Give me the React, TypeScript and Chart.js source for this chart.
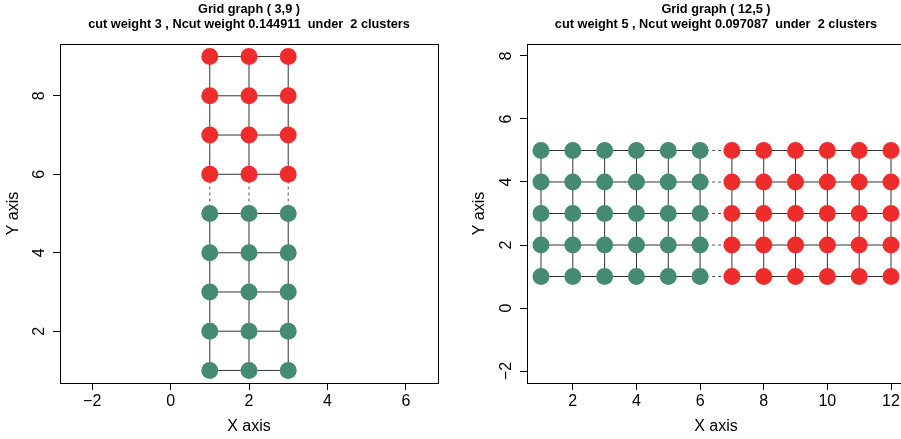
import React, { useEffect, useRef } from "react";
import { Chart, registerables } from "chart.js";

Chart.register(...registerables);

const FONT = "'Liberation Sans', Arial, Helvetica, sans-serif";
const GREEN = "#458B74";
const RED = "#EE2C2C";
const EDGE = "#333333";
const CUT_EDGE = "#555555";

// ---- Left panel: Grid graph (3,9) ----
const leftCols = [1, 2, 3];
const leftRows = [1, 2, 3, 4, 5, 6, 7, 8, 9];
const leftClusterByRow = [1, 1, 1, 1, 1, 2, 2, 2, 2];
const leftXTicks = [-2, 0, 2, 4, 6];
const leftYTicks = [2, 4, 6, 8];
const leftXRange = [-2.82, 6.82];
const leftYRange = [0.68, 9.32];
const leftTitle = ["Grid graph ( 3,9 )", "cut weight 3 , Ncut weight 0.144911  under  2 clusters"];

// ---- Right panel: Grid graph (12,5) ----
const rightCols = [1, 2, 3, 4, 5, 6, 7, 8, 9, 10, 11, 12];
const rightRows = [1, 2, 3, 4, 5];
const rightClusterByCol = [1, 1, 1, 1, 1, 1, 2, 2, 2, 2, 2, 2];
const rightXTicks = [2, 4, 6, 8, 10, 12];
const rightYTicks = [-2, 0, 2, 4, 6, 8];
const rightXRange = [0.56, 12.44];
const rightYRange = [-2.38, 8.38];
const rightTitle = ["Grid graph ( 12,5 )", "cut weight 5 , Ncut weight 0.097087  under  2 clusters"];

type Pt = { x: number; y: number; c: number };

function fmt(v: number | string) {
  const n = Number(v);
  return n < 0 ? "\u2212" + Math.abs(n) : String(n);
}

function buildDatasets(cols: number[], rows: number[], clusterOf: (ci: number, ri: number) => number) {
  const grid: Pt[][] = rows.map((ry, ri) => cols.map((cx, ci) => ({ x: cx, y: ry, c: clusterOf(ci, ri) })));
  const datasets: any[] = [];
  const edgeDs = (data: Pt[]) => ({
    data,
    showLine: true,
    borderColor: EDGE,
    borderWidth: 1,
    pointRadius: 0,
    pointHoverRadius: 0,
    order: 2,
    segment: {
      borderDash: (ctx: any) => (data[ctx.p0DataIndex].c !== data[ctx.p1DataIndex].c ? [3, 3] : undefined),
      borderColor: (ctx: any) => (data[ctx.p0DataIndex].c !== data[ctx.p1DataIndex].c ? CUT_EDGE : undefined),
    },
  });
  grid.forEach((row) => datasets.push(edgeDs(row)));
  cols.forEach((_, ci) => datasets.push(edgeDs(grid.map((row) => row[ci]))));
  const all = grid.flat();
  [1, 2].forEach((cl) => {
    datasets.push({
      data: all.filter((p) => p.c === cl),
      showLine: false,
      pointRadius: 8.5,
      pointHoverRadius: 8.5,
      pointBorderWidth: 0,
      pointBackgroundColor: cl === 1 ? GREEN : RED,
      pointBorderColor: cl === 1 ? GREEN : RED,
      order: 0,
    });
  });
  return datasets;
}

const framePlugin = (title: string[]) => ({
  id: "frameAndTitle",
  afterDraw(chart: any) {
    const { ctx, chartArea } = chart;
    const { left, right, top, bottom } = chartArea;
    ctx.save();
    ctx.strokeStyle = "#000";
    ctx.lineWidth = 1;
    ctx.strokeRect(Math.round(left) + 0.5, Math.round(top) + 0.5, Math.round(right - left), Math.round(bottom - top));
    ctx.fillStyle = "#000";
    ctx.font = `bold 12.75px ${FONT}`;
    ctx.textAlign = "center";
    ctx.textBaseline = "alphabetic";
    const cx = (left + right) / 2;
    ctx.fillText(title[0], cx, top - 31.5);
    ctx.fillText(title[1], cx, top - 16);
    ctx.restore();
  },
});

type PanelProps = {
  left: number;
  width: number;
  datasets: any[];
  xRange: number[];
  yRange: number[];
  xTicks: number[];
  yTicks: number[];
  title: string[];
  yAxisWidth: number;
  padRight: number;
  yTickPad: number;
  yTitlePad: number;
};

function Panel(p: PanelProps) {
  const ref = useRef<HTMLCanvasElement | null>(null);
  useEffect(() => {
    if (!ref.current) return;
    const chart = new Chart(ref.current, {
      type: "scatter",
      data: { datasets: p.datasets },
      options: {
        animation: false,
        responsive: false,
        events: [],
        layout: { padding: { left: 0, top: 44, right: p.padRight, bottom: 0 } },
        plugins: {
          legend: { display: false },
          tooltip: { enabled: false },
          title: { display: false },
        },
        scales: {
          x: {
            type: "linear",
            min: p.xRange[0],
            max: p.xRange[1],
            afterBuildTicks: (s: any) => {
              s.ticks = p.xTicks.map((v) => ({ value: v }));
            },
            afterFit: (s: any) => {
              s.height = 56;
            },
            grid: { drawOnChartArea: false, drawTicks: true, tickLength: 7, color: "#000", lineWidth: 1 },
            border: { display: false },
            ticks: {
              color: "#000",
              font: { family: FONT, size: 16 },
              padding: 2.4,
              maxRotation: 0,
              minRotation: 0,
              autoSkip: false,
              callback: (v: any) => fmt(v),
            },
            title: {
              display: true,
              text: "X axis",
              color: "#000",
              font: { family: FONT, size: 16 },
              padding: { top: 0, bottom: 2.4 },
            },
          },
          y: {
            type: "linear",
            min: p.yRange[0],
            max: p.yRange[1],
            afterBuildTicks: (s: any) => {
              s.ticks = p.yTicks.map((v) => ({ value: v }));
            },
            afterFit: (s: any) => {
              s.width = p.yAxisWidth;
            },
            grid: { drawOnChartArea: false, drawTicks: true, tickLength: 7, color: "#000", lineWidth: 1 },
            border: { display: false },
            ticks: {
              color: "#000",
              font: { family: FONT, size: 16 },
              padding: p.yTickPad,
              minRotation: 90,
              maxRotation: 90,
              crossAlign: "center",
              autoSkip: false,
              callback: (v: any) => fmt(v),
            },
            title: {
              display: true,
              text: "Y axis",
              color: "#000",
              font: { family: FONT, size: 16 },
              padding: { top: p.yTitlePad, bottom: 0 },
            },
          },
        },
      } as any,
      plugins: [framePlugin(p.title)],
    });
    return () => chart.destroy();
  }, []);
  return (
    <canvas
      ref={ref}
      width={p.width}
      height={439}
      style={{ position: "absolute", left: p.left, top: 0, width: p.width, height: 439, display: "block" }}
    />
  );
}

export default function App() {
  const leftDatasets = buildDatasets(leftCols, leftRows, (_ci, ri) => leftClusterByRow[ri]);
  const rightDatasets = buildDatasets(rightCols, rightRows, (ci) => rightClusterByCol[ci]);
  return (
    <div
      style={{
        position: "fixed",
        left: 0,
        top: 0,
        width: 901,
        height: 439,
        overflow: "hidden",
        background: "#fff",
      }}
    >
      <Panel
        left={0}
        width={450}
        datasets={leftDatasets}
        xRange={leftXRange}
        yRange={leftYRange}
        xTicks={leftXTicks}
        yTicks={leftYTicks}
        title={leftTitle}
        yAxisWidth={60}
        padRight={12}
        yTickPad={8.5}
        yTitlePad={4.4}
      />
      <Panel
        left={450}
        width={470}
        datasets={rightDatasets}
        xRange={rightXRange}
        yRange={rightYRange}
        xTicks={rightXTicks}
        yTicks={rightYTicks}
        title={rightTitle}
        yAxisWidth={77}
        padRight={15}
        yTickPad={3.9}
        yTitlePad={20.4}
      />
    </div>
  );
}
